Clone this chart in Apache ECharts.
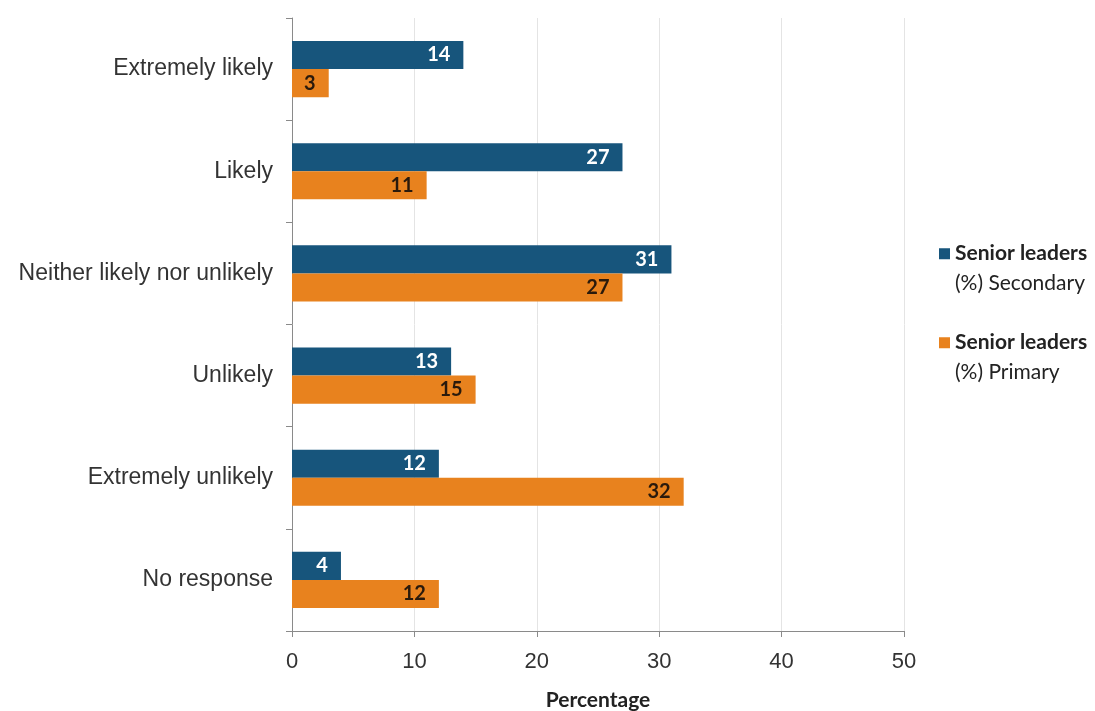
<!DOCTYPE html>
<html>
<head>
<meta charset="utf-8">
<script src="https://cdn.jsdelivr.net/npm/echarts@6/dist/echarts.min.js"></script>
<style>html,body{margin:0;padding:0;background:#fff}#c{width:1095px;height:711px}</style>
</head>
<body>
<div id="c"></div>
<script>
const categories = ['Extremely likely', 'Likely', 'Neither likely nor unlikely', 'Unlikely', 'Extremely unlikely', 'No response'];
const secondary = [14, 27, 31, 13, 12, 4];
const primary = [3, 11, 27, 15, 32, 12];
const xTicks = { min: 0, max: 50, interval: 10 };
const seriesNames = ['Senior leaders\n(%) Secondary', 'Senior leaders\n(%) Primary'];

const chart = echarts.init(document.getElementById('c'));
const legendIcon = 'path://M0,0L10,0L10,10L0,10Z M0,36.9L0.01,36.9L0.01,37L0,37Z';
chart.setOption({
  animation: false,
  grid: { left: 292, right: 191, top: 18, bottom: 80, outerBoundsMode: 'none', containLabel: false },
  legend: {
    orient: 'vertical',
    left: 934,
    top: 238,
    itemGap: 38,
    itemWidth: 11,
    itemHeight: 41,
    icon: legendIcon,
    data: seriesNames,
    formatter: function (name) {
      const parts = name.split('\n');
      return '{a|' + parts[0] + '}\n{b|' + parts[1] + '}';
    },
    textStyle: {
      rich: {
        a: { fontFamily: 'Lato', fontSize: 21, fontWeight: 'bold', color: '#222', lineHeight: 30 },
        b: { fontFamily: 'Lato', fontSize: 21, color: '#222', lineHeight: 30 }
      }
    }
  },
  xAxis: {
    type: 'value',
    min: xTicks.min, max: xTicks.max, interval: xTicks.interval,
    name: 'Percentage',
    nameLocation: 'middle',
    nameGap: 59,
    nameTextStyle: { fontFamily: 'Lato', fontSize: 21, fontWeight: 'bold', color: '#222' },
    axisLine: { show: true, lineStyle: { color: '#8a8a8a', width: 1 } },
    axisTick: { show: true, length: 6, lineStyle: { color: '#8a8a8a' } },
    axisLabel: { fontFamily: 'Liberation Sans', fontSize: 22, color: '#333', margin: 20 },
    splitLine: { show: true, lineStyle: { color: '#e4e4e4' } }
  },
  yAxis: {
    type: 'category',
    inverse: true,
    data: categories,
    axisLine: { show: true, lineStyle: { color: '#8a8a8a', width: 1 } },
    axisTick: { show: true, length: 6, lineStyle: { color: '#8a8a8a' } },
    axisLabel: { fontFamily: 'Liberation Sans', fontSize: 23, color: '#333', margin: 19 },
    splitLine: { show: false }
  },
  series: [
    {
      name: seriesNames[0], type: 'bar', data: secondary,
      barGap: '0%', barCategoryGap: '45%',
      itemStyle: { color: '#17557c' },
      label: { show: true, position: 'insideRight', distance: 13, color: '#fff', fontFamily: 'Lato', fontWeight: 'bold', fontSize: 20 }
    },
    {
      name: seriesNames[1], type: 'bar', data: primary,
      barGap: '0%', barCategoryGap: '45%',
      itemStyle: { color: '#e8821e' },
      label: { show: true, position: 'insideRight', distance: 13, color: '#2a1a0c', fontFamily: 'Lato', fontWeight: 'bold', fontSize: 20 }
    }
  ]
});
</script>
</body>
</html>
